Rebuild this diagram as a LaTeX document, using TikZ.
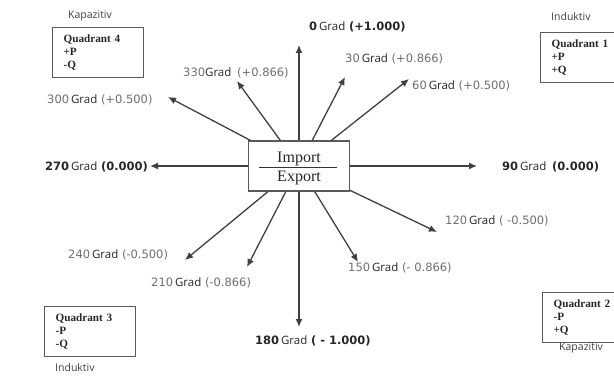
\documentclass[tikz,border=0pt]{standalone}
\usepackage{fontspec}
\setmainfont{Liberation Serif}
\newfontfamily\numfont{DejaVu Sans}
\newfontfamily\gradfont{Open Sans}
\usetikzlibrary{arrows.meta}
\definecolor{linegrey}{HTML}{404040}
\definecolor{numgrey}{HTML}{6E6E6E}
\definecolor{boxgrey}{HTML}{5A5A5A}
\def\gradlbl[#1](#2){{\color{numgrey}#1}\,{\gradfont\color{black!85}Grad}\ {\color{numgrey}(#2)}}
\def\gradbold[#1](#2){{\bfseries#1}\,{\gradfont\color{black!85}Grad}\ {\bfseries(#2)}}
\tikzset{
  iobox/.style={draw=boxgrey, line width=1.1pt, minimum width=101pt, minimum height=50pt, inner sep=0pt},
  iotxt/.style={inner sep=0pt, font=\fontsize{16}{19}\selectfont, text=black!85},
  arr/.style={draw=linegrey, line width=1.3pt, -{Latex[length=8pt,width=7pt]}},
  lbl/.style={inner sep=0pt, anchor=west, font=\fontsize{11.5}{13}\selectfont\numfont, text=black!85},
  quad/.style={draw=boxgrey, line width=1.2pt, anchor=north west, minimum height=50pt, inner xsep=11pt,
    text width=69pt, align=left, font=\fontsize{11.2}{13.2}\selectfont\bfseries, text=black!85},
  side/.style={inner sep=0pt, font=\fontsize{10.5}{12}\selectfont\gradfont, text=black!75}
}

\begin{document}
\begin{tikzpicture}[x=1pt, y=-1pt]
		%%%%% START %%%%%
		\useasboundingbox (0,0) rectangle (614,377);
		\clip (0,0) rectangle (614,377);
		
		% centre box
		\node[iobox] (io) at (299,166) {};
		\node[iotxt, anchor=base] (imp) at (299,163) {Import};
		\node[iotxt, anchor=base] (exp) at (299,182) {Export};
		\draw[line width=0.8pt, color=black!80] ([shift={(11,1)}]io.west) -- ([shift={(-13,1)}]io.east);
		
		% arrow tips
		\coordinate (t0) at (299,45);
		\coordinate (t30) at (345,77);
		\coordinate (t60) at (409,79);
		\coordinate (t90) at (477,166);
		\coordinate (t120) at (437,232);
		\coordinate (t150) at (358,262);
		\coordinate (t180) at (299,327);
		\coordinate (t210) at (247,267);
		\coordinate (t240) at (185,260);
		\coordinate (t270) at (150,166);
		\coordinate (t300) at (168,97);
		\coordinate (t330) at (237,81);
		
		\draw[arr] (io) -- (t0);
		\draw[arr] (io) -- (t30);
		\draw[arr] (io) -- (t60);
		\draw[arr] (io) -- (t90);
		\draw[arr] (io) -- (t120);
		\draw[arr] (io) -- (t150);
		\draw[arr] (io) -- (t180);
		\draw[arr] (io) -- (t210);
		\draw[arr] (io) -- (t240);
		\draw[arr] (io) -- (t270);
		\draw[arr] (io) -- (t300);
		\draw[arr] (io) -- (t330);
		
		% angle labels
		\node[lbl] (l0) at (309,27) {\gradbold[0](+1.000)};
		\node[lbl] (l30) at (345,59) {\gradlbl[30](+0.866)};
		\node[lbl] (l60) at (412,86) {\gradlbl[60](+0.500)};
		\node[lbl] (l90) at (502,167) {{\bfseries 90}\,{\gradfont\color{black!85}Grad}\enspace{\bfseries(0.000)}};
		\node[lbl] (l120) at (445,221) {\gradlbl[120](~-0.500)};
		\node[lbl] (l150) at (348,268) {\gradlbl[150](-~0.866)};
		\node[lbl] (l180) at (255,341) {\gradbold[180](~-~1.000)};
		\node[lbl] (l210) at (151,283) {\gradlbl[210](-0.866)};
		\node[lbl] (l240) at (68,255) {\gradlbl[240](-0.500)};
		\node[lbl] (l270) at (45,167) {\gradbold[270](0.000)};
		\node[lbl] (l300) at (47,100) {\gradlbl[300](+0.500)};
		\node[lbl] (l330) at (183,73) {{\color{numgrey}330}{\gradfont\color{black!85}Grad}\enspace{\color{numgrey}(+0.866)}};
		
		% quadrants
		\node[quad] (q4) at (52,27) {Quadrant 4\\+P\\-Q};
		\node[quad] (q1) at (540,32) {Quadrant 1\\+P\\+Q};
		\node[quad] (q3) at (44,306) {Quadrant 3\\-P\\-Q};
		\node[quad] (q2) at (542,292) {Quadrant 2\\-P\\+Q};
		
		\node[side] (k4) at (90,16) {Kapazitiv};
		\node[side, anchor=west] (i1) at (551,17) {Induktiv};
		\node[side, anchor=west] (i3) at (55,368) {Induktiv};
		\node[side, anchor=west] (k2) at (559,348) {Kapazitiv};
		
		%%%%% END %%%%%
	\end{tikzpicture}
\end{document}
